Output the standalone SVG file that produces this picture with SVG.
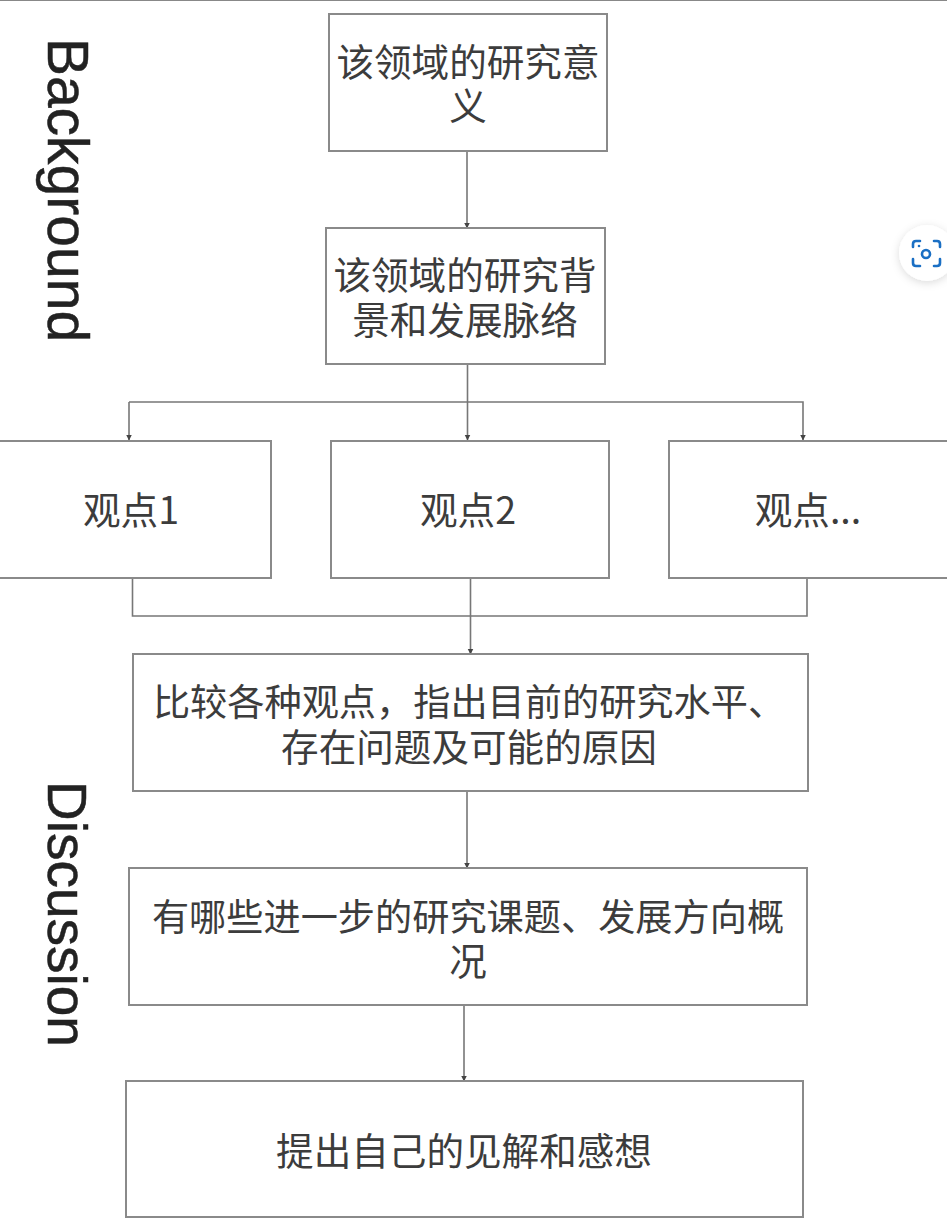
<svg xmlns="http://www.w3.org/2000/svg" width="947" height="1232" viewBox="0 0 947 1232">
<style>
.b{fill:#fff;stroke:#8a8a8a;stroke-width:2}
.c{fill:none;stroke:#777;stroke-width:1.6}
.t{font-family:"Noto Sans CJK SC","Liberation Sans",sans-serif;font-size:37.6px;fill:#3c3c3c;text-anchor:middle}
.w{font-size:37.2px}
.s{font-family:"Liberation Sans",Arial,sans-serif;fill:#222;stroke:#222;stroke-width:0.5;text-anchor:middle}
.i{fill:none;stroke:#1a6fc4;stroke-width:2.6;stroke-linecap:round}
</style>
<defs>
<marker id="a" markerWidth="6" markerHeight="7" refX="5.5" refY="3.5" orient="auto" markerUnits="userSpaceOnUse"><path d="M0 0.5L6 3.5L0 6.5z" fill="#444"/></marker>
<filter id="sh" x="-30%" y="-30%" width="160%" height="160%"><feDropShadow dx="0" dy="2" stdDeviation="4" flood-color="#000" flood-opacity="0.14"/></filter>
</defs>
<rect width="947" height="1232" fill="#fff"/>
<path d="M0 0.5H947" stroke="#888" stroke-width="1"/>
<g id="connectors">
<path class="c" d="M467 152V228" marker-end="url(#a)"/>
<path class="c" d="M467.5 364V440" marker-end="url(#a)"/>
<path class="c" d="M129 402H803V440" marker-end="url(#a)"/>
<path class="c" d="M129 402V440" marker-end="url(#a)"/>
<path class="c" d="M132.500 578V616H807V578"/>
<path class="c" d="M470.500 578V654" marker-end="url(#a)"/>
<path class="c" d="M467 791V868" marker-end="url(#a)"/>
<path class="c" d="M464 1005V1081" marker-end="url(#a)"/>
</g>
<g id="label-background"><text class="s" font-size="57" transform="translate(48,190) rotate(90)">Background</text></g>
<g id="label-discussion"><text class="s" font-size="55" transform="translate(48,914) rotate(90)">Discussion</text></g>
<g id="n1"><rect class="b" x="329" y="14" width="278" height="137"/><text class="t"><tspan x="468" y="76">该领域的研究意</tspan><tspan x="468" y="120">义</tspan></text></g>
<g id="n2"><rect class="b" x="326" y="228" width="279" height="136"/><text class="t"><tspan x="465" y="289">该领域的研究背</tspan><tspan x="465" y="334">景和发展脉络</tspan></text></g>
<g id="n3"><rect class="b" x="-2" y="441" width="273" height="137"/><text class="t" x="131" y="524">观点1</text></g>
<g id="n4"><rect class="b" x="331" y="441" width="278" height="137"/><text class="t" x="468" y="524">观点2</text></g>
<g id="n5"><rect class="b" x="669" y="441" width="280" height="137"/><text class="t" x="808" y="524">观点...</text></g>
<g id="n6"><rect class="b" x="133" y="654" width="675" height="137"/><text class="t"><tspan class="w" x="469" y="716">比较各种观点，指出目前的研究水平、</tspan><tspan x="469" y="761">存在问题及可能的原因</tspan></text></g>
<g id="n7"><rect class="b" x="129" y="868" width="678" height="137"/><text class="t"><tspan class="w" x="468" y="931">有哪些进一步的研究课题、发展方向概</tspan><tspan x="468" y="975">况</tspan></text></g>
<g id="n8"><rect class="b" x="126" y="1081" width="677" height="136"/><text class="t" x="464" y="1165">提出自己的见解和感想</text></g>
<g id="scan-button"><circle cx="927" cy="253" r="28" fill="#fff" filter="url(#sh)"/><path class="i" d="M913 247V244Q913 241 916 241H920M934 241H937Q940 241 940 244V247M940 259V263Q940 266 937 266H934M920 266H916Q913 266 913 263V259"/><circle cx="926" cy="254" r="4" fill="none" stroke="#1a6fc4" stroke-width="2.6"/><circle cx="919" cy="246" r="1.300" fill="#1a6fc4"/></g>
</svg>
